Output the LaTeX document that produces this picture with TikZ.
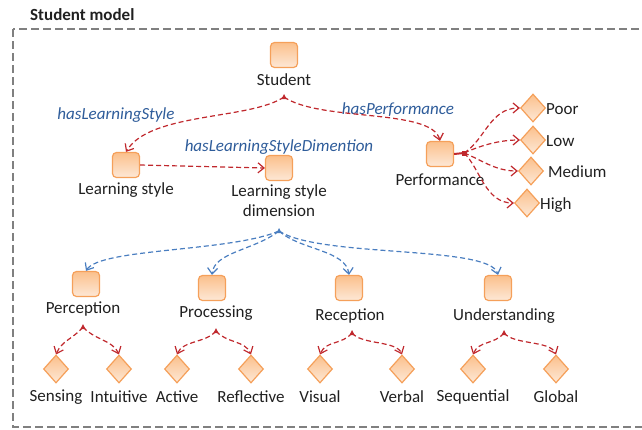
\documentclass[tikz,border=0pt]{standalone}
\usepackage{fontspec}
\setmainfont{Carlito}
\usetikzlibrary{arrows.meta,shapes.geometric,calc}
\definecolor{relc}{HTML}{C0282D}
\definecolor{bluc}{HTML}{4A7EC0}
\definecolor{lblc}{HTML}{2E5C9A}
\definecolor{orb}{HTML}{F5A05A}
\definecolor{ortop}{HTML}{FBC08C}
\definecolor{orbot}{HTML}{FDE8D6}
\definecolor{framec}{HTML}{808080}
\definecolor{txtc}{HTML}{202020}
\tikzset{
  cls/.style={draw=orb, line width=1.2pt, rounded corners=4pt, minimum width=27pt, minimum height=25pt, inner sep=0pt, top color=ortop, bottom color=orbot},
  val/.style={diamond, draw=orb, line width=1.2pt, minimum width=25pt, minimum height=28pt, inner sep=0pt, top color=ortop, bottom color=orbot},
  txt/.style={font=\fontsize{17}{20}\selectfont, inner sep=0pt, text=txtc, align=center},
  rlbl/.style={font=\fontsize{17}{20}\selectfont\itshape, inner sep=0pt, text=lblc},
  redarr/.style={draw=relc, line width=1.2pt, dash pattern=on 5pt off 3pt, -{Straight Barb[length=6pt,width=10pt]}},
  bluarr/.style={draw=bluc, line width=1.2pt, dash pattern=on 5pt off 3pt, -{Straight Barb[length=6pt,width=10pt]}},
}
\begin{document}
\begin{tikzpicture}[x=1pt,y=-1pt]
\useasboundingbox (0,0) rectangle (642,429);
\clip (0,0) rectangle (642,429);
% frame
\node[font=\fontsize{17}{20}\selectfont\bfseries, text=txtc, inner sep=0pt, anchor=west] (title) at (30,15) {Student model};
\draw[framec, line width=1.5pt, dash pattern=on 8pt off 4pt] (13,29) rectangle (660,427);

% class nodes
\node[cls] (st) at (284,55) {};
\node[txt] (stl) at (284,80) {Student};
\node[cls] (ls) at (126,165) {};
\node[txt] (lsl) at (126,190) {Learning style};
\node[cls] (lsd) at (279,168) {};
\node[txt, anchor=north] (lsdl) at (279,184) {Learning style\\dimension};
\node[cls] (pf) at (440,154) {};
\node[txt] (pfl) at (440,180) {Performance};

% performance values
\node[val] (poor) at (533,108) {};
\node[txt, anchor=west] (poorl) at (546,109) {Poor};
\node[val] (low) at (533,140) {};
\node[txt, anchor=west] (lowl) at (546,141) {Low};
\node[val] (med) at (531,171) {};
\node[txt, anchor=west] (medl) at (548,172) {Medium};
\node[val] (high) at (527,203) {};
\node[txt, anchor=west] (highl) at (540,205) {High};

% dimensions
\node[cls] (pe) at (86,284) {};
\node[txt] (pel) at (83,309) {Perception};
\node[cls] (pr) at (212,288) {};
\node[txt] (prl) at (216,313) {Processing};
\node[cls] (re) at (349,288) {};
\node[txt] (rel) at (350,316) {Reception};
\node[cls] (un) at (498,288) {};
\node[txt] (unl) at (504,316) {Understanding};

% leaf values
\foreach \n/\x/\t in {sen/56/Sensing, int/119/Intuitive, act/177/Active, rfl/251/Reflective, vis/320/Visual, ver/402/Verbal, seq/473/Sequential, glo/556/Global}{
  \node[val] (\n) at (\x,369) {};
  \node[txt] (\n l) at (\x,397) {\t};
}

% relation labels
\node[rlbl] (hls) at (116,115) {hasLearningStyle};
\node[rlbl] (hp) at (398,110) {hasPerformance};
\node[rlbl] (hlsd) at (279,147) {hasLearningStyleDimention};

% fan origins
\coordinate (sfan) at (284,97);
\coordinate (dfan) at (279,231);
\coordinate (pfan) at (464,153);
\coordinate (pef) at (83,327);
\coordinate (prf) at (216,331);
\coordinate (rcf) at (352,333);
\coordinate (unf) at (504,333);

% student relations
\draw[redarr] (sfan) .. controls (250,120) and (150,112) .. (ls.north);
\draw[redarr] (sfan) .. controls (320,122) and (432,108) .. (pf.north);
\fill[relc] (sfan) ++(0,-3) -- ++(2.5,5) -- ++(-5,0) -- cycle;
\draw[redarr] (ls.east) -- (lsd.west);

% performance fan
\draw[relc, line width=2pt] (pf.east) -- (pfan);
\fill[relc] (pfan) ++(-2.5,-2.5) rectangle ++(5,5);
\draw[redarr] (pfan) .. controls (485,140) and (490,108) .. (poor.west);
\draw[redarr] (pfan) .. controls (482,145) and (500,140) .. (low.west);
\draw[redarr] (pfan) .. controls (482,160) and (495,171) .. (med.west);
\draw[redarr] (pfan) .. controls (480,168) and (485,203) .. (high.west);

% dimension fan
\draw[bluarr] (dfan) .. controls (230,252) and (100,248) .. (pe.north);
\draw[bluarr] (dfan) .. controls (255,250) and (214,252) .. (pr.north);
\draw[bluarr] (dfan) .. controls (300,250) and (346,250) .. (re.north);
\draw[bluarr] (dfan) .. controls (320,258) and (490,245) .. (un.north);
\fill[bluc] (dfan) ++(0,-3) -- ++(2.5,5) -- ++(-5,0) -- cycle;

% leaf fans
\foreach \o/\a/\b in {pef/sen/int, prf/act/rfl, rcf/vis/ver, unf/seq/glo}{
  \draw[redarr] (\o) .. controls ($(\o)+(-10,12)$) and ($(\a.north)+(6,-14)$) .. (\a.north);
  \draw[redarr] (\o) .. controls ($(\o)+(10,12)$) and ($(\b.north)+(-6,-14)$) .. (\b.north);
  \fill[relc] (\o) ++(0,-3) -- ++(2.5,5) -- ++(-5,0) -- cycle;
}
\end{tikzpicture}
\end{document}
